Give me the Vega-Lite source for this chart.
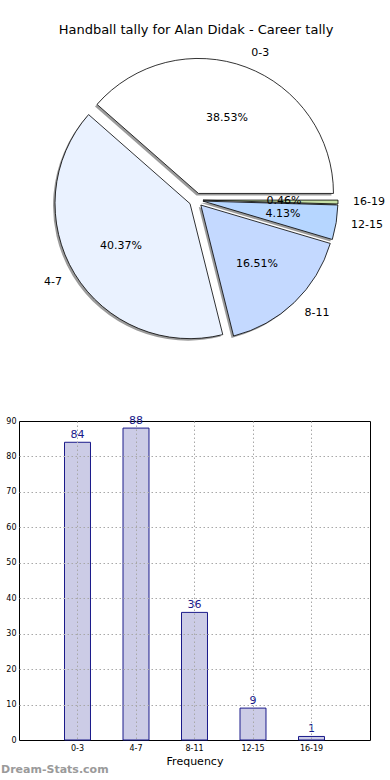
{
  "$schema": "https://vega.github.io/schema/vega-lite/v6.json",
  "padding": {"left": 0, "top": 24, "right": 0, "bottom": 0},
  "background": "white",
  "config": {"font": "DejaVu Sans", "view": {"stroke": null}},
  "data": {"values": [
    {"range": "0-3", "k": 0, "count": 84, "pct": "38.53%"},
    {"range": "4-7", "k": 1, "count": 88, "pct": "40.37%"},
    {"range": "8-11", "k": 2, "count": 36, "pct": "16.51%"},
    {"range": "12-15", "k": 3, "count": 9, "pct": "4.13%"},
    {"range": "16-19", "k": 4, "count": 1, "pct": "0.46%"}
  ]},
  "spacing": 64,
  "vconcat": [
    {
      "width": 354,
      "height": 300,
      "title": {"text": "Handball tally for Alan Didak - Career tally", "fontSize": 13, "fontWeight": "normal", "offset": 10, "anchor": "middle", "color": "black", "font": "DejaVu Sans"},
      "encoding": {
        "theta": {"field": "count", "type": "quantitative", "stack": true, "scale": {"range": [1.5708, 7.854]}},
        "order": {"field": "k", "type": "quantitative", "sort": "descending"}
      },
      "layer": [
        {
          "mark": {"type": "arc", "outerRadius": 135, "fill": "#7a7a7a", "opacity": 0.75,
            "xOffset": {"expr": "-2 + 7*sin(PI/2 + PI*(datum.count_start + datum.count_end)/218)"},
            "yOffset": {"expr": "2 - 7*cos(PI/2 + PI*(datum.count_start + datum.count_end)/218)"}}
        },
        {
          "mark": {"type": "arc", "outerRadius": 135, "stroke": "black", "strokeWidth": 0.8,
            "xOffset": {"expr": "7*sin(PI/2 + PI*(datum.count_start + datum.count_end)/218)"},
            "yOffset": {"expr": "-7*cos(PI/2 + PI*(datum.count_start + datum.count_end)/218)"}},
          "encoding": {
            "color": {"field": "range", "type": "nominal",
              "scale": {"domain": ["0-3", "4-7", "8-11", "12-15", "16-19"], "range": ["#ffffff", "#eaf2ff", "#c4d9ff", "#b6d6ff", "#c6e0a6"]},
              "legend": null}
          }
        },
        {
          "mark": {"type": "text", "radius": 81, "fontSize": 11, "color": "black", "font": "DejaVu Sans",
            "xOffset": {"expr": "7*sin(PI/2 + PI*(datum.count_start + datum.count_end)/218)"},
            "yOffset": {"expr": "-7*cos(PI/2 + PI*(datum.count_start + datum.count_end)/218)"}},
          "encoding": {"text": {"field": "pct", "type": "nominal"}}
        },
        {
          "mark": {"type": "text", "radius": 150, "fontSize": 11, "color": "black", "font": "DejaVu Sans",
            "align": {"expr": "sin(PI/2 + PI*(datum.count_start + datum.count_end)/218) > 0 ? 'left' : 'right'"},
            "xOffset": {"expr": "7*sin(PI/2 + PI*(datum.count_start + datum.count_end)/218)"},
            "yOffset": {"expr": "-7*cos(PI/2 + PI*(datum.count_start + datum.count_end)/218)"}},
          "encoding": {"text": {"field": "range", "type": "nominal"}}
        }
      ]
    },
    {
      "width": 351,
      "height": 319,
      "view": {"stroke": "black", "strokeWidth": 1},
      "title": {"text": "Dream-Stats.com", "orient": "bottom", "anchor": "start", "frame": "bounds", "fontSize": 11, "fontWeight": "bold", "color": "#9a9a9a", "offset": -2, "font": "DejaVu Sans"},
      "encoding": {
        "x": {"field": "range", "type": "nominal", "sort": ["0-3", "4-7", "8-11", "12-15", "16-19"],
          "scale": {"paddingInner": 0.556, "paddingOuter": 0.778},
          "axis": {"title": "Frequency", "titleFontSize": 11, "titleFontWeight": "normal", "titleColor": "black", "titlePadding": 3,
            "labelFontSize": 8, "labelAngle": 0, "labelColor": "black", "labelPadding": 4, "ticks": false, "domain": false,
            "grid": true, "gridDash": [1.5, 2.5], "gridColor": "#a8a8a8", "bandPosition": 0.5, "zindex": 1}},
        "y": {"field": "count", "type": "quantitative", "scale": {"domain": [0, 90], "nice": false},
          "axis": {"title": null, "values": [0, 10, 20, 30, 40, 50, 60, 70, 80, 90], "labelFontSize": 8, "labelColor": "black",
            "labelPadding": 3, "ticks": false, "domain": false, "grid": true, "gridDash": [1.5, 2.5], "gridColor": "#a8a8a8",
            "gridOpacity": {"condition": {"test": "datum.value == 90 || datum.value == 0", "value": 0}, "value": 1},
            "zindex": 1, "minExtent": 18}}
      },
      "layer": [
        {"mark": {"type": "bar", "fill": "#ccccE6", "stroke": "#1a1a8a", "strokeWidth": 1}},
        {"mark": {"type": "text", "baseline": "bottom", "dy": -2, "fontSize": 11, "color": "#1a1a8a", "font": "DejaVu Sans"},
          "encoding": {"text": {"field": "count", "type": "quantitative"}}}
      ]
    }
  ]
}
